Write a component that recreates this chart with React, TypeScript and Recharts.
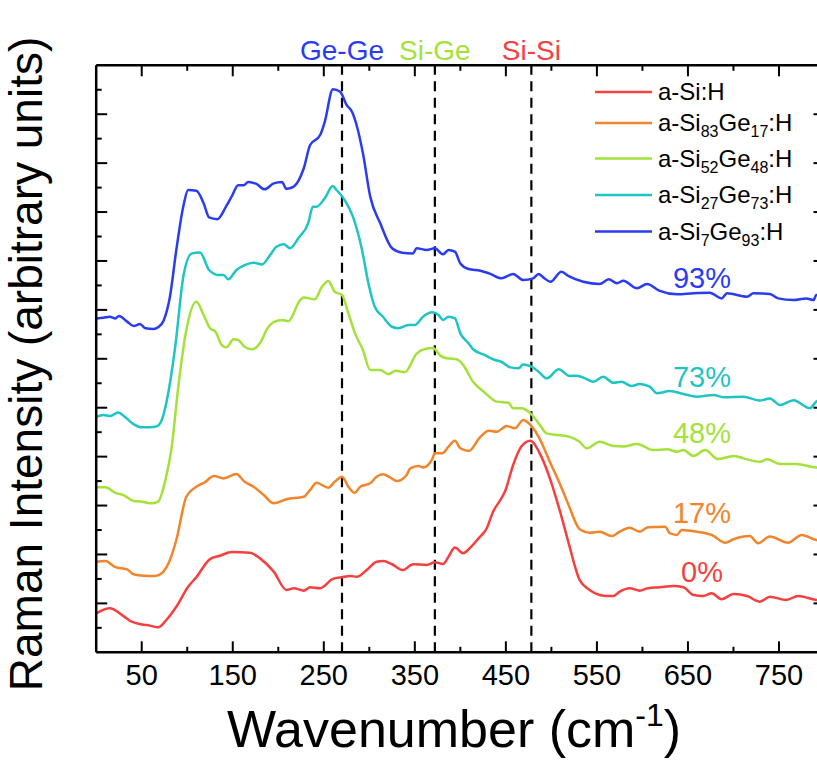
import React from "react";
import { LineChart, Line, XAxis, YAxis, ReferenceLine } from "recharts";

// wavenumber (cm-1), intensity (offset, arbitrary units)
const aSiH: [number, number][] = [
  [0, 1.59], [15, 1.8], [30, 1.48], [39, 1.25], [50, 1.14], [59, 1.09], [68, 1.02], [77, 1.32],
  [88, 1.86], [101, 2.68], [110, 3.07], [125, 3.81], [136, 3.95], [149, 4.1], [169, 4.07],
  [180, 3.84], [195, 3.3], [209, 2.55], [217, 2.62], [228, 2.52], [235, 2.66], [246, 2.62],
  [260, 3.0], [270, 3.07], [279, 3.12], [286, 3.09], [299, 3.43], [308, 3.7], [315, 3.73],
  [325, 3.6], [337, 3.36], [348, 3.6], [363, 3.57], [372, 3.68], [381, 3.61], [387, 3.91],
  [394, 4.28], [403, 4.05], [412, 4.32], [420, 4.66], [429, 5.07], [436, 5.75], [444, 6.23],
  [449, 6.57], [458, 7.66], [467, 8.41], [477, 8.65], [482, 8.48], [489, 8.0], [499, 7.04],
  [509, 5.82], [520, 4.32], [526, 3.5], [531, 2.96], [542, 2.55], [553, 2.34], [561, 2.3],
  [568, 2.3], [575, 2.48], [586, 2.62], [597, 2.52], [606, 2.62], [619, 2.66], [634, 2.71],
  [645, 2.66], [656, 2.34], [667, 2.3], [676, 2.41], [687, 2.17], [700, 2.38], [715, 2.3],
  [729, 2.07], [740, 2.27], [758, 2.14], [771, 2.3], [791, 2.14], [800, 2.12],
];

const aSi83Ge17: [number, number][] = [
  [0, 3.7], [10, 3.73], [21, 3.48], [34, 3.39], [41, 3.19], [52, 3.13], [65, 3.12], [72, 3.23],
  [81, 3.77], [88, 4.59], [99, 6.36], [110, 6.77], [120, 6.97], [129, 7.21], [140, 7.11],
  [154, 7.29], [163, 6.97], [173, 6.77], [184, 6.43], [195, 6.09], [209, 6.26], [228, 6.36],
  [235, 6.64], [242, 6.93], [255, 6.73], [262, 6.97], [270, 7.18], [277, 6.77], [284, 6.52],
  [290, 6.77], [301, 6.91], [308, 7.18], [315, 7.28], [323, 7.15], [330, 7.0], [341, 7.25],
  [345, 7.52], [354, 7.62], [359, 7.56], [369, 7.89], [372, 8.14], [380, 8.14], [387, 8.41],
  [394, 8.65], [400, 8.34], [409, 8.23], [422, 8.81], [431, 9.06], [440, 9.02], [451, 9.25],
  [460, 9.16], [469, 9.5], [473, 9.43], [486, 8.81], [499, 7.73], [509, 6.91], [520, 5.92],
  [528, 5.2], [531, 5.03], [542, 4.89], [553, 4.93], [566, 4.75], [575, 4.93], [586, 5.09],
  [597, 4.93], [606, 5.11], [625, 5.13], [630, 4.87], [638, 4.8], [643, 5.0], [660, 4.93],
  [676, 4.8], [691, 4.48], [700, 4.62], [718, 4.75], [727, 4.46], [740, 4.73], [760, 4.48],
  [775, 4.8], [791, 4.59], [800, 4.55],
];

const aSi52Ge48: [number, number][] = [
  [0, 6.75], [10, 6.75], [21, 6.52], [30, 6.43], [41, 6.19], [50, 6.16], [61, 6.09], [68, 6.16],
  [76, 7.04], [83, 8.41], [90, 10.8], [99, 13.18], [110, 14.33], [118, 13.79], [125, 13.25],
  [131, 13.11], [138, 12.56], [143, 12.47], [151, 12.8], [156, 12.77], [163, 12.49],
  [171, 12.39], [182, 12.77], [187, 13.18], [196, 13.52], [204, 13.59], [211, 13.54],
  [224, 14.4], [228, 14.51], [240, 14.43], [248, 14.95], [255, 15.18], [262, 14.74],
  [270, 14.61], [277, 13.86], [284, 13.07], [293, 12.36], [301, 11.54], [312, 11.54],
  [321, 11.37], [329, 11.51], [339, 11.45], [352, 12.21], [361, 12.4], [370, 12.44],
  [378, 12.13], [385, 12.02], [396, 11.98], [403, 11.75], [414, 11.06], [427, 10.61],
  [440, 10.25], [453, 10.2], [458, 9.98], [467, 9.98], [477, 9.77], [486, 9.36], [495, 8.95],
  [508, 8.88], [520, 8.81], [531, 8.61], [539, 8.34], [553, 8.61], [568, 8.43], [579, 8.41],
  [594, 8.52], [612, 8.27], [627, 8.3], [638, 8.2], [645, 8.27], [656, 8.03], [669, 8.27],
  [683, 7.9], [700, 8.03], [711, 7.93], [729, 7.79], [737, 7.89], [751, 7.7], [769, 7.7],
  [791, 7.56], [800, 7.55],
];

const aSi27Ge73: [number, number][] = [
  [0, 9.63], [8, 9.7], [15, 9.66], [24, 9.8], [32, 9.61], [41, 9.33], [50, 9.2], [59, 9.2],
  [67, 9.25], [72, 9.5], [81, 11.0], [87, 12.56], [96, 15.43], [105, 16.31], [114, 16.35],
  [124, 15.63], [134, 15.43], [140, 15.43], [145, 15.25], [154, 15.63], [163, 15.83],
  [173, 15.93], [182, 15.86], [191, 16.24], [198, 16.58], [206, 16.68], [213, 16.52],
  [222, 16.93], [233, 17.56], [238, 18.22], [242, 18.22], [251, 18.56], [260, 19.06],
  [264, 18.9], [273, 18.49], [282, 17.81], [292, 16.45], [299, 15.09], [306, 14.13],
  [315, 13.72], [325, 13.31], [332, 13.25], [343, 13.38], [350, 13.38], [359, 13.72],
  [369, 13.9], [376, 13.79], [381, 13.59], [387, 13.72], [394, 13.65], [400, 13.04],
  [409, 12.63], [414, 12.39], [427, 12.15], [438, 11.95], [445, 11.88], [455, 11.65],
  [464, 11.61], [469, 11.77], [477, 11.7], [486, 11.47], [495, 11.2], [508, 11.57],
  [520, 11.3], [528, 11.31], [537, 11.2], [546, 11.06], [557, 11.27], [568, 11.02],
  [577, 11.06], [588, 10.89], [597, 10.97], [608, 10.86], [616, 10.59], [630, 10.68],
  [645, 10.56], [660, 10.45], [678, 10.52], [689, 10.43], [711, 10.45], [729, 10.29],
  [740, 10.38], [751, 10.11], [766, 10.31], [784, 9.98], [791, 10.25], [800, 10.35],
];

const aSi7Ge93: [number, number][] = [
  [0, 13.65], [8, 13.68], [15, 13.72], [21, 13.65], [25, 13.75], [34, 13.52], [41, 13.34],
  [48, 13.42], [54, 13.25], [63, 13.22], [68, 13.29], [74, 13.56], [81, 14.54], [88, 16.45],
  [96, 18.29], [101, 18.9], [110, 18.87], [118, 18.36], [124, 17.78], [133, 17.71],
  [143, 18.25], [149, 18.65], [156, 19.1], [162, 19.1], [167, 19.23], [176, 19.15],
  [185, 18.93], [195, 19.17], [204, 19.23], [209, 18.95], [217, 19.04], [228, 19.79],
  [235, 20.74], [246, 21.15], [251, 21.68], [260, 23.02], [268, 22.92], [275, 22.38],
  [281, 22.1], [286, 21.56], [293, 20.4], [301, 18.63], [312, 17.54], [325, 16.52],
  [336, 16.34], [348, 16.31], [352, 16.52], [363, 16.45], [372, 16.52], [381, 16.27],
  [387, 16.45], [394, 16.38], [400, 15.9], [409, 15.67], [422, 15.6], [433, 15.47],
  [445, 15.29], [458, 15.47], [469, 15.22], [480, 15.29], [486, 15.47], [491, 15.33],
  [499, 15.15], [511, 15.56], [519, 15.38], [535, 15.15], [553, 15.06], [563, 15.25],
  [572, 15.09], [579, 15.19], [594, 14.88], [605, 15.06], [619, 14.78], [638, 14.64],
  [656, 14.68], [674, 14.7], [687, 14.47], [693, 14.68], [715, 14.54], [722, 14.68],
  [740, 14.65], [749, 14.47], [766, 14.4], [780, 14.47], [788, 14.4], [791, 14.61], [800, 14.55],
];

// phonon mode positions (dashed lines)
const modes = [
  { x: 270, name: "Ge-Ge", color: "#2a3cf2" },
  { x: 372, name: "Si-Ge", color: "#a3e23a" },
  { x: 478, name: "Si-Si", color: "#f5403f" },
];

const xTicks = [50, 100, 150, 200, 250, 300, 350, 400, 450, 500, 550, 600, 650, 700, 750];
const xLabels = [50, 150, 250, 350, 450, 550, 650, 750];
const yTicks = Array.from({ length: 23 }, (_, i) => i + 1);

const series = [
  { key: "si", data: aSiH, color: "#f5403f", sub: ["a-Si", "", ":H"], pct: "0%" },
  { key: "ge17", data: aSi83Ge17, color: "#f2852c", sub: ["a-Si", "83", "Ge", "17", ":H"], pct: "17%" },
  { key: "ge48", data: aSi52Ge48, color: "#a3e23a", sub: ["a-Si", "52", "Ge", "48", ":H"], pct: "48%" },
  { key: "ge73", data: aSi27Ge73, color: "#1fc4c4", sub: ["a-Si", "27", "Ge", "73", ":H"], pct: "73%" },
  { key: "ge93", data: aSi7Ge93, color: "#2a3cf2", sub: ["a-Si", "7", "Ge", "93", ":H"], pct: "93%" },
];

const FONT = "'Liberation Sans', Arial, sans-serif";

const BottomTick = (p: any) => {
  const v = p.payload.value;
  const major = xLabels.includes(v);
  return (
    <g>
      <line x1={p.x} x2={p.x} y1={p.y} y2={p.y - (major ? 11 : 5.5)} stroke="#000" strokeWidth={2} />
      {major && (
        <text x={p.x} y={p.y + 33} textAnchor="middle" fontSize={29} fontFamily={FONT} fill="#000">
          {v}
        </text>
      )}
    </g>
  );
};

const TopTick = (p: any) => {
  const major = xLabels.includes(p.payload.value);
  return <line x1={p.x} x2={p.x} y1={p.y} y2={p.y + (major ? 11 : 5.5)} stroke="#000" strokeWidth={2} />;
};

const LeftTick = (p: any) => {
  const major = p.payload.value % 2 === 0;
  return <line x1={p.x} x2={p.x + (major ? 11 : 5.5)} y1={p.y} y2={p.y} stroke="#000" strokeWidth={2} />;
};

const RightTick = (p: any) => {
  const major = p.payload.value % 2 === 0;
  return <line x1={p.x} x2={p.x - (major ? 11 : 5.5)} y1={p.y} y2={p.y} stroke="#000" strokeWidth={2} />;
};

const toPts = (d: [number, number][]) => d.map(([x, y]) => ({ x, y }));

const legendY = [92, 123, 158.5, 195, 231.5];
const pctY = [581.7, 523, 443, 386.7, 288];

export default function App() {
  const axisLine = { stroke: "#000", strokeWidth: 2.5 };
  return (
    <div
      style={{
        position: "absolute",
        left: 0,
        top: 0,
        width: 817,
        height: 783,
        overflow: "hidden",
        background: "#fff",
        fontFamily: FONT,
      }}
    >
      <LineChart width={840} height={783} margin={{ top: 55.3, right: 5.5, bottom: 100.7, left: 56.2 }}>
        <XAxis
          xAxisId="b"
          type="number"
          dataKey="x"
          domain={[0, 800]}
          ticks={xTicks}
          interval={0}
          height={30}
          tickSize={0}
          tickMargin={0}
          tickLine={false}
          axisLine={axisLine}
          tick={BottomTick}
          allowDataOverflow
        />
        <XAxis
          xAxisId="t"
          orientation="top"
          type="number"
          dataKey="x"
          domain={[0, 800]}
          ticks={xTicks}
          interval={0}
          height={10}
          tickSize={0}
          tickMargin={0}
          tickLine={false}
          axisLine={axisLine}
          tick={TopTick}
          allowDataOverflow
        />
        <YAxis
          yAxisId="l"
          type="number"
          domain={[0, 24]}
          ticks={yTicks}
          interval={0}
          width={40}
          tickSize={0}
          tickMargin={0}
          tickLine={false}
          axisLine={axisLine}
          tick={LeftTick}
          allowDataOverflow
        />
        <YAxis
          yAxisId="r"
          orientation="right"
          type="number"
          domain={[0, 24]}
          ticks={yTicks.filter((v) => v % 2 === 0)}
          interval={0}
          width={10}
          tickSize={0}
          tickMargin={0}
          tickLine={false}
          axisLine={axisLine}
          tick={RightTick}
          allowDataOverflow
        />
        {modes.map((m) => (
          <ReferenceLine
            key={m.name}
            xAxisId="b"
            yAxisId="l"
            x={m.x}
            stroke="#000"
            strokeWidth={2.2}
            strokeDasharray="10 6.5"
            label={{
              value: m.name,
              position: "top",
              offset: 5,
              fill: m.color,
              fontSize: 28,
              fontFamily: FONT,
            }}
          />
        ))}
        {series.map((s) => (
          <Line
            key={s.key}
            xAxisId="b"
            yAxisId="l"
            data={toPts(s.data)}
            dataKey="y"
            type="monotone"
            stroke={s.color}
            strokeWidth={2.5}
            dot={false}
            isAnimationActive={false}
          />
        ))}
      </LineChart>

      <svg
        width={817}
        height={783}
        style={{ position: "absolute", left: 0, top: 0, pointerEvents: "none" }}
        fontFamily={FONT}
      >
        <text
          transform="translate(42,364) rotate(-90)"
          textAnchor="middle"
          fontSize={46}
          fill="#000"
        >
          Raman Intensity (arbitrary units)
        </text>
        <text x={454} y={747} textAnchor="middle" fontSize={52} fill="#000">
          Wavenumber (cm
          <tspan fontSize={32} dy={-21}>-1</tspan>
          <tspan dy={21}>)</tspan>
        </text>

        {series.map((s, i) => (
          <g key={s.key}>
            <line x1={595} x2={652} y1={legendY[i]} y2={legendY[i]} stroke={s.color} strokeWidth={2.5} />
            <text x={658} y={legendY[i] + 8.3} fontSize={24} fill="#000">
              {s.sub.map((part, j) =>
                j % 2 === 1 ? (
                  part ? (
                    <tspan key={j} fontSize={16} dy={6}>
                      {part}
                    </tspan>
                  ) : null
                ) : (
                  <tspan key={j} dy={j > 0 && s.sub[j - 1] ? -6 : 0}>
                    {part}
                  </tspan>
                )
              )}
            </text>
            <text x={702} y={pctY[i]} textAnchor="middle" fontSize={29} fill={s.color}>
              {s.pct}
            </text>
          </g>
        ))}
      </svg>
    </div>
  );
}
